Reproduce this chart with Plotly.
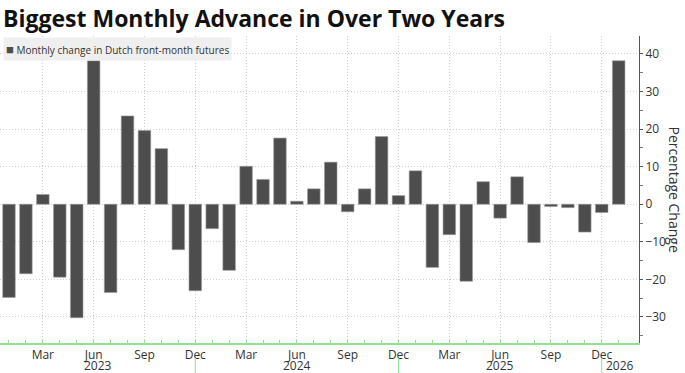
import plotly.graph_objects as go

months = ["Jan", "Feb", "Mar", "Apr", "May", "Jun", "Jul", "Aug", "Sep", "Oct", "Nov", "Dec"]
years = [2023, 2024, 2025, 2026]
month_labels = [f"{m} {y}" for y in years[:3] for m in months] + ["Jan 2026"]
values = [
    -24.8, -18.5, 2.6, -19.4, -30.2, 38.2, -23.5, 23.5, 19.6, 14.8, -12.1, -23.0,
    -6.5, -17.6, 10.1, 6.6, 17.6, 0.8, 4.1, 11.2, -2.0, 4.1, 18.0, 2.3,
    8.9, -16.8, -8.1, -20.5, 6.0, -3.7, 7.3, -10.2, -0.6, -0.9, -7.4, -2.2,
    38.2,
]
series_name = "Monthly change in Dutch front-month futures"
y_title = "Percentage Change"
title = "Biggest Monthly Advance in Over Two Years"
y_ticks = [-30, -20, -10, 0, 10, 20, 30, 40]

idx = list(range(len(values)))
quarter_idx = [i for i, lab in enumerate(month_labels) if lab.split()[0] in ("Mar", "Jun", "Sep", "Dec")]
quarter_txt = [month_labels[i].split()[0] for i in quarter_idx]
dec_idx = [i for i, lab in enumerate(month_labels) if lab.startswith("Dec")]

X0, X1 = -0.53, 37.2
GREEN = "#90e090"
BAR = "#4d4d4d"
FONT = "Open Sans"
W, H = 685, 373
ML, MR, MT, MB = 0, 46, 36, 30
PH = H - MT - MB

fig = go.Figure()
fig.add_trace(go.Bar(
    x=idx, y=values, name=series_name,
    marker=dict(color=BAR, line=dict(color="#9a9a9a", width=0.6)),
    showlegend=False,
))

fig.update_layout(
    width=W, height=H,
    margin=dict(l=ML, r=MR, t=MT, b=MB),
    paper_bgcolor="white", plot_bgcolor="white",
    bargap=0.26,
    font=dict(family=FONT, size=12, color="#333"),
    title=dict(text=f"<b>{title}</b>", x=3 / W, xref="container", xanchor="left",
               y=1 - 19 / H, yref="container", yanchor="middle",
               font=dict(family=FONT, size=23, color="#111")),
    xaxis=dict(
        range=[X0, X1], tickmode="array", tickvals=quarter_idx, ticktext=quarter_txt,
        showgrid=True, gridcolor="#cfcfcf", griddash="1px,2px", gridwidth=1,
        showline=True, linecolor=GREEN, linewidth=1.5,
        ticks="inside", ticklen=3, tickcolor=GREEN,
        minor=dict(tickmode="array", tickvals=idx, ticks="inside", ticklen=3, tickcolor=GREEN, showgrid=False),
        tickfont=dict(family=FONT, size=12, color="#333"),
        zeroline=False, fixedrange=True,
    ),
    yaxis=dict(
        side="right", range=[-36.93, 44.78], tickmode="array", tickvals=y_ticks,
        showgrid=True, gridcolor="#cfcfcf", griddash="1px,2px", gridwidth=1,
        showline=True, linecolor="#555", linewidth=1,
        ticks="outside", ticklen=3, tickcolor="#555",
        minor=dict(dtick=5, tick0=0, ticks="outside", ticklen=3, tickcolor="#777", showgrid=False),
        tickfont=dict(family=FONT, size=12, color="#333"),
        zeroline=False, fixedrange=True,
    ),
)

# Legend box (top-left)
fig.add_annotation(
    text=f"<span style='color:{BAR};font-size:13px'>■</span> {series_name}",
    xref="paper", yref="paper", x=3 / (W - ML - MR), y=1 - 1 / PH,
    xanchor="left", yanchor="top", showarrow=False, align="left",
    bgcolor="#efefef", borderpad=2,
    font=dict(family=FONT, size=10, color="#333"),
)

# Rotated axis title (reads top to bottom)
fig.add_annotation(text=y_title, textangle=90, xref="paper", yref="paper",
                   x=1, xshift=35, xanchor="center", y=0.5, yanchor="middle", showarrow=False,
                   font=dict(family=FONT, size=14, color="#333"))

# Year labels centred between Dec separators
bounds = [X0] + dec_idx + [X1]
for k, yr in enumerate(years):
    fig.add_annotation(text=str(yr), xref="x", yref="paper", x=(bounds[k] + bounds[k + 1]) / 2,
                       y=-22.5 / PH, yanchor="middle", showarrow=False,
                       font=dict(family=FONT, size=12, color="#333"))
for d in dec_idx:
    fig.add_shape(type="line", xref="x", yref="paper", x0=d, x1=d,
                  y0=-15 / PH, y1=-MB / PH, line=dict(color=GREEN, width=1))

fig.write_html("out.html", config={"displayModeBar": False},
               post_script="document.body.style.margin='0';document.body.style.padding='0';")
